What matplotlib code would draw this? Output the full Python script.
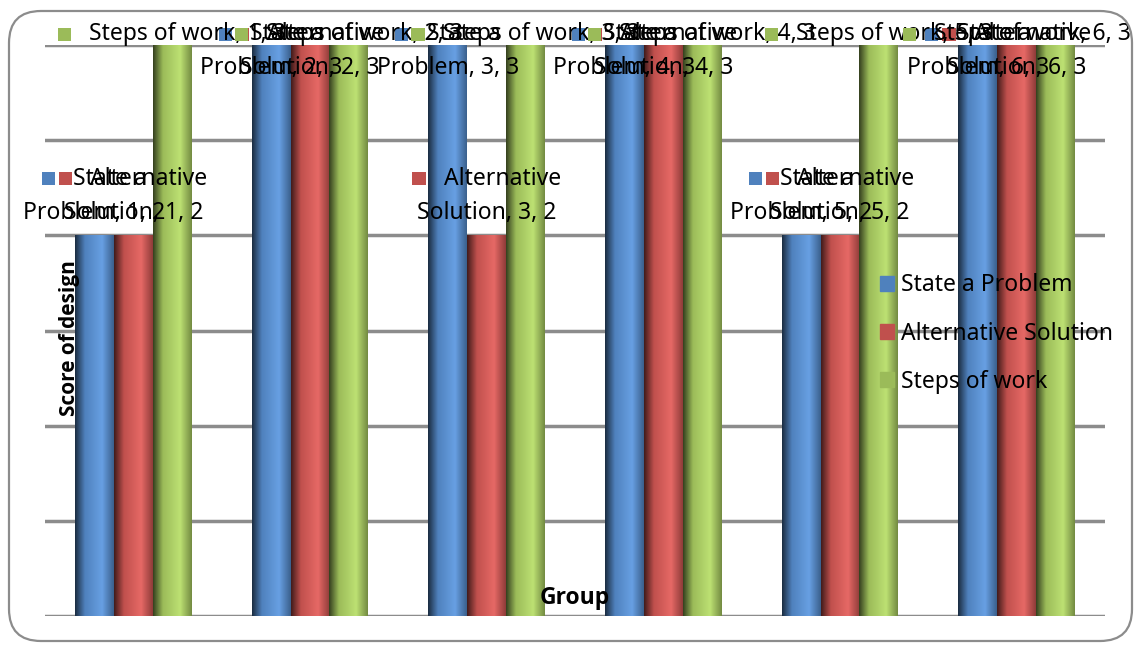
import numpy as np
import matplotlib.pyplot as plt
from matplotlib.colors import LinearSegmentedColormap, to_rgb
from matplotlib.patches import Rectangle, FancyBboxPatch, Patch
from matplotlib.offsetbox import AnnotationBbox, DrawingArea, HPacker, VPacker, TextArea

plt.rcParams['font.family'] = ['Noto Sans', 'DejaVu Sans']

groups = [1, 2, 3, 4, 5, 6]
series = ["State a Problem", "Alternative Solution", "Steps of work"]
state_problem = [2, 3, 3, 3, 2, 3]
alt_solution = [2, 3, 2, 3, 2, 3]
steps_of_work = [3, 3, 3, 3, 3, 3]
colors = ["#4F81BD", "#C0504D", "#9BBB59"]
# how Excel wrapped each series name inside its data labels
label_heads = [("State a", "Problem"), ("Alternative", "Solution"), ("Steps of work", None)]

W, H = 1135, 646
FS = 16.5


def cylinder_cmap(base):
    r, g, b = to_rgb(base)
    dark = (r * 0.35, g * 0.35, b * 0.35)
    light = tuple(min(1, c * 1.12 + 0.06) for c in (r, g, b))
    edge = (r * 0.75, g * 0.75, b * 0.75)
    return LinearSegmentedColormap.from_list(
        "cyl", [(0, dark), (0.25, (r, g, b)), (0.7, light), (1, edge)])


def data_label(ax, x, y, color, head, tail):
    key = DrawingArea(9.5, 9.5, 0, 0)
    key.add_artist(Rectangle((0, 0), 9.5, 9.5, fc=color, ec="none"))
    line1 = HPacker(children=[key, TextArea(head, textprops=dict(fontsize=FS))],
                    align="center", pad=0, sep=13)
    rows = [line1]
    if tail:
        rows.append(TextArea(tail, textprops=dict(fontsize=FS)))
    box = VPacker(children=rows, align="center", pad=0, sep=7)
    ab = AnnotationBbox(box, (x, y), xycoords="data", box_alignment=(0.5, 1),
                        frameon=False, pad=0, annotation_clip=False, zorder=5)
    ax.add_artist(ab)
    return ab


fig = plt.figure(figsize=(W / 100, H / 100), dpi=100)
ax = fig.add_axes([45 / W, 30 / H, (1105 - 45) / W, (601 - 30) / H])

values = [state_problem, alt_solution, steps_of_work]
x = np.arange(len(groups))
width = 0.22
grad = np.linspace(0, 1, 64).reshape(1, -1)
labels = []

for i, (name, vals, col) in enumerate(zip(series, values, colors)):
    xs = x + (i - 1) * width
    bars = ax.bar(xs, vals, width, color=col, zorder=2, label=name)
    cmap = cylinder_cmap(col)
    head, word2 = label_heads[i]
    for g, rect, v, xc in zip(groups, bars, vals, xs):
        im = ax.imshow(grad, cmap=cmap, aspect="auto", zorder=3,
                       extent=(xc - width / 2, xc + width / 2, 0, v))
        im.set_clip_path(rect)
        if word2:
            top_line, tail = head, f"{word2}, {g}, {v}"
        else:
            top_line, tail = f"{head}, {g}, {v}", None
        labels.append(data_label(ax, xc, min(v + 0.36, 3.12), col, top_line, tail))

ax.set_xlim(-0.5, len(groups) - 0.5)
ax.set_ylim(0, 3)
ax.set_yticks(np.arange(0, 3.01, 0.5))
ax.yaxis.grid(True, color="#8c8c8c", lw=2.5)
ax.set_axisbelow(True)
ax.set_xticks([])
ax.tick_params(left=False, labelleft=False)
for s in ax.spines.values():
    s.set_visible(False)

handles = [Patch(color=c) for c in colors]
leg = ax.legend(handles, series, loc="upper left",
                bbox_to_anchor=(869 / W, 1 - 262 / H), bbox_transform=fig.transFigure,
                frameon=False, fontsize=FS, handlelength=0.6, handleheight=0.6,
                handletextpad=0.3, labelspacing=1.05, borderpad=0)
leg.set_zorder(6)

bold = ["Open Sans", "DejaVu Sans"]
fig.text(70 / W, 1 - 338 / H, "Score of design", rotation=90, ha="center",
         va="center", fontsize=15, fontweight="bold", family=bold)
fig.text(575 / W, 1 - 598 / H, "Group", ha="center", va="center",
         fontsize=FS, fontweight="bold", family=bold)

border = FancyBboxPatch((9 / 100, 5 / 100), (1123 / 100), (630 / 100),
                        boxstyle="round,pad=0,rounding_size=0.32",
                        transform=fig.dpi_scale_trans, fill=False,
                        ec="#8c8c8c", lw=1.6)
fig.patches.append(border)

# keep data labels inside the chart area, like Excel does
fig.canvas.draw()
renderer = fig.canvas.get_renderer()
for ab in labels:
    bb = ab.get_window_extent(renderer)
    overflow = bb.x1 - (W - 4)
    if overflow > 0:
        px, py = ax.transData.transform(ab.xy)
        ab.xybox = tuple(ax.transData.inverted().transform((px - overflow, py)))
        ab.boxcoords = "data"

fig.savefig("out.png", dpi=100)
